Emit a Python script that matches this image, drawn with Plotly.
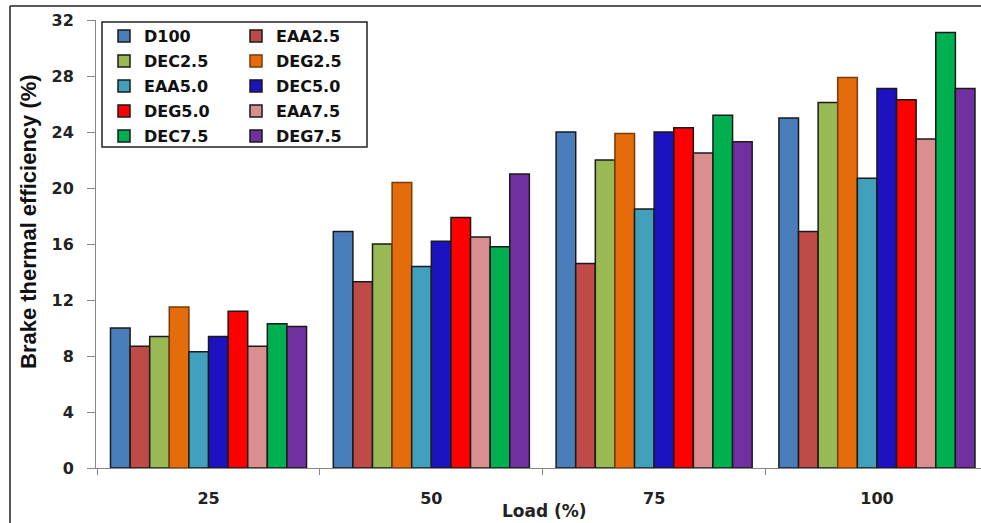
import plotly.graph_objects as go

loads = ["25", "50", "75", "100"]
series_names = ["D100", "EAA2.5", "DEC2.5", "DEG2.5", "EAA5.0",
                "DEC5.0", "DEG5.0", "EAA7.5", "DEC7.5", "DEG7.5"]
D100 = [10.0, 16.9, 24.0, 25.0]
EAA2_5 = [8.7, 13.3, 14.6, 16.9]
DEC2_5 = [9.4, 16.0, 22.0, 26.1]
DEG2_5 = [11.5, 20.4, 23.9, 27.9]
EAA5_0 = [8.3, 14.4, 18.5, 20.7]
DEC5_0 = [9.4, 16.2, 24.0, 27.1]
DEG5_0 = [11.2, 17.9, 24.3, 26.3]
EAA7_5 = [8.7, 16.5, 22.5, 23.5]
DEC7_5 = [10.3, 15.8, 25.2, 31.1]
DEG7_5 = [10.1, 21.0, 23.3, 27.1]
series_values = [D100, EAA2_5, DEC2_5, DEG2_5, EAA5_0,
                 DEC5_0, DEG5_0, EAA7_5, DEC7_5, DEG7_5]
y_ticks = [0, 4, 8, 12, 16, 20, 24, 28, 32]

colors = ["#4A7EBB", "#BE4B48", "#98B954", "#E46C0A", "#43A0BD",
          "#1C12BF", "#FF0000", "#D98F8F", "#00B050", "#7030A0"]
edge = ["#1a1a1a"] * 10
edge[3] = "#7A3A0A"

W, H = 981, 523
L, R, T, B = 96, 0, 20, 55
pw, ph = W - L - R, H - T - B


def px2x(px):
    return (px - L) / pw


def py2y(py):
    return 1 - (py - T) / ph


fig = go.Figure()
for i, (name, vals) in enumerate(zip(series_names, series_values)):
    fig.add_trace(go.Bar(
        x=loads, y=vals, name=name,
        marker=dict(color=colors[i], line=dict(color=edge[i], width=1.5)),
        legend="legend" if i % 2 == 0 else "legend2",
        legendgroup=name,
    ))

legend_font = dict(family="DejaVu Sans", size=16, color="#111", weight="bold")
common_leg = dict(bgcolor="rgba(0,0,0,0)", borderwidth=0, font=legend_font,
                  traceorder="grouped", tracegroupgap=1.2,
                  xanchor="left", yanchor="top", orientation="v")

fig.update_layout(
    width=W, height=H,
    margin=dict(l=L, r=R, t=T, b=B),
    paper_bgcolor="white", plot_bgcolor="white",
    barmode="group", bargap=0.12, bargroupgap=0,
    legend=dict(x=px2x(104), y=py2y(19), **common_leg),
    legend2=dict(x=px2x(236), y=py2y(19), **common_leg),
    xaxis=dict(
        type="category", range=[-0.505, 3.467],
        showline=True, linecolor="#868686", linewidth=1,
        ticks="outside", tickson="boundaries", ticklen=6, tickcolor="#868686",
        showgrid=False, zeroline=False,
        tickfont=dict(family="DejaVu Sans", size=16, color="#222", weight="bold"),
        ticklabelstandoff=16,
    ),
    yaxis=dict(
        range=[0, 32], tickvals=y_ticks,
        showline=True, linecolor="#868686", linewidth=1,
        ticks="outside", ticklen=8, tickcolor="#868686",
        showgrid=False, zeroline=False,
        tickfont=dict(family="DejaVu Sans", size=16, color="#222", weight="bold"),
        ticklabelstandoff=10,
    ),
    shapes=[
        dict(type="rect", xref="paper", yref="paper",
             x0=px2x(102), x1=px2x(367), y0=py2y(147), y1=py2y(22),
             line=dict(color="#222", width=1.5), fillcolor="rgba(0,0,0,0)",
             layer="above"),
        dict(type="line", xref="paper", yref="paper",
             x0=px2x(10), x1=px2x(990), y0=py2y(6), y1=py2y(6),
             line=dict(color="#222", width=1.5)),
        dict(type="line", xref="paper", yref="paper",
             x0=px2x(10), x1=px2x(10), y0=py2y(6), y1=py2y(530),
             line=dict(color="#222", width=1.5)),
    ],
    annotations=[
        dict(text="Brake thermal efficiency (%)", textangle=-90,
             xref="paper", yref="paper", x=px2x(28), y=py2y(222),
             xanchor="center", yanchor="middle", showarrow=False,
             font=dict(family="Liberation Sans", size=22, color="#111", weight="bold")),
        dict(text="Load (%)",
             xref="paper", yref="paper", x=px2x(544), y=py2y(511),
             xanchor="center", yanchor="middle", showarrow=False,
             font=dict(family="DejaVu Sans", size=17, color="#222", weight="bold")),
    ],
)

fig.write_html("out.html")
